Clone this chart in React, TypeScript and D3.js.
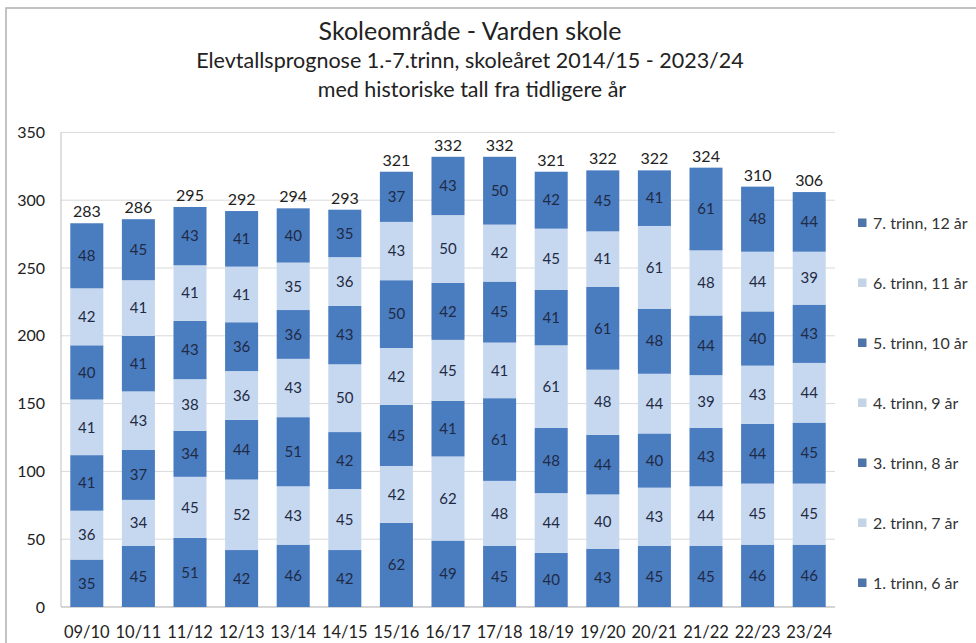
import React from "react";
import * as d3 from "d3";

const categories = ["09/10","10/11","11/12","12/13","13/14","14/15","15/16","16/17","17/18","18/19","19/20","20/21","21/22","22/23","23/24"];
const seriesNames = ["1. trinn, 6 år","2. trinn, 7 år","3. trinn, 8 år","4. trinn, 9 år","5. trinn, 10 år","6. trinn, 11 år","7. trinn, 12 år"];
const trinn1 = [35,45,51,42,46,42,62,49,45,40,43,45,45,46,46];
const trinn2 = [36,34,45,52,43,45,42,62,48,44,40,43,44,45,45];
const trinn3 = [41,37,34,44,51,42,45,41,61,48,44,40,43,44,45];
const trinn4 = [41,43,38,36,43,50,42,45,41,61,48,44,39,43,44];
const trinn5 = [40,41,43,36,36,43,50,42,45,41,61,48,44,40,43];
const trinn6 = [42,41,41,41,35,36,43,50,42,45,41,61,48,44,39];
const trinn7 = [48,45,43,41,40,35,37,43,50,42,45,41,61,48,44];
const yTicks = [0,50,100,150,200,250,300,350];

const seriesValues = [trinn1, trinn2, trinn3, trinn4, trinn5, trinn6, trinn7];
const DARK = "#4a7cc0";
const LIGHT = "#c6d8ef";
const FONT = "Lato, 'Open Sans', sans-serif";

export default function App() {
  const W = 976, H = 643;
  const left = 61, right = 835, top = 132.4, bottom = 607;
  const x = d3.scaleBand<string>().domain(categories).range([left, right]).paddingInner(0.36).paddingOuter(0.18);
  const y = d3.scaleLinear().domain([0, 350]).range([bottom, top]);

  const rows = categories.map((c, i) => {
    const r: any = { cat: c };
    seriesNames.forEach((s, k) => (r[s] = seriesValues[k][i]));
    return r;
  });
  const stack = d3.stack<any>().keys(seriesNames)(rows);
  const totals = categories.map((_, i) => d3.sum(seriesValues, (s) => s[i]));

  const legendY = d3.scalePoint<string>().domain([...seriesNames].reverse()).range([223, 583]);

  return (
    <svg width={W} height={H} style={{ position: "absolute", left: 0, top: 0, background: "#fff" }}>
      <rect x={6} y={8} width={W} height={H} fill="#fff" stroke="#b0b0b0" strokeWidth={1.5} />
      <g fontFamily={FONT} textAnchor="middle" fill="#222">
        <text x={470} y={40} fontSize={25}>Skoleområde - Varden skole</text>
        <text x={470} y={68} fontSize={21.5}>Elevtallsprognose 1.-7.trinn, skoleåret 2014/15 - 2023/24</text>
        <text x={472} y={97} fontSize={21.5}>med historiske tall fra tidligere år</text>
      </g>
      {yTicks.map((t) => (
        <g key={t}>
          <line x1={left} x2={right} y1={y(t)} y2={y(t)} stroke="#d9d9d9" strokeWidth={1} />
          <text x={45} y={y(t)} dy="0.35em" textAnchor="end" fontFamily={FONT} fontSize={16} fill="#222">{t}</text>
        </g>
      ))}
      <line x1={left} x2={left} y1={top} y2={bottom} stroke="#bfbfbf" />
      <line x1={left} x2={right} y1={bottom} y2={bottom} stroke="#bfbfbf" />
      {stack.map((layer, k) => (
        <g key={layer.key} fill={k % 2 === 0 ? DARK : LIGHT}>
          {layer.map((d, i) => (
            <rect key={i} x={x(categories[i])} width={x.bandwidth()} y={y(d[1])} height={y(d[0]) - y(d[1])} />
          ))}
        </g>
      ))}
      {stack.map((layer) => (
        <g key={"l" + layer.key} fontFamily={FONT} fontSize={15} fill="#1f2a44" textAnchor="middle">
          {layer.map((d, i) => (
            <text key={i} x={(x(categories[i]) as number) + x.bandwidth() / 2} y={(y(d[0]) + y(d[1])) / 2} dy="0.35em">
              {d[1] - d[0]}
            </text>
          ))}
        </g>
      ))}
      <g fontFamily={FONT} fontSize={16} fill="#222" textAnchor="middle">
        {totals.map((t, i) => (
          <text key={i} x={(x(categories[i]) as number) + x.bandwidth() / 2} y={y(t) - 6}>{t}</text>
        ))}
      </g>
      <g fontFamily={FONT} fontSize={16.5} fill="#222" textAnchor="middle">
        {categories.map((c) => (
          <text key={c} x={(x(c) as number) + x.bandwidth() / 2} y={638}>{c}</text>
        ))}
      </g>
      <g fontFamily={FONT} fontSize={16} fill="#333">
        {seriesNames.map((s, k) => (
          <g key={s} transform={`translate(858,${legendY(s)})`}>
            <rect x={0} y={-4.5} width={8.5} height={8.5} fill={k % 2 === 0 ? "#4f74a8" : "#c4d3e6"} />
            <text x={15} dy="0.35em">{s}</text>
          </g>
        ))}
      </g>
    </svg>
  );
}
